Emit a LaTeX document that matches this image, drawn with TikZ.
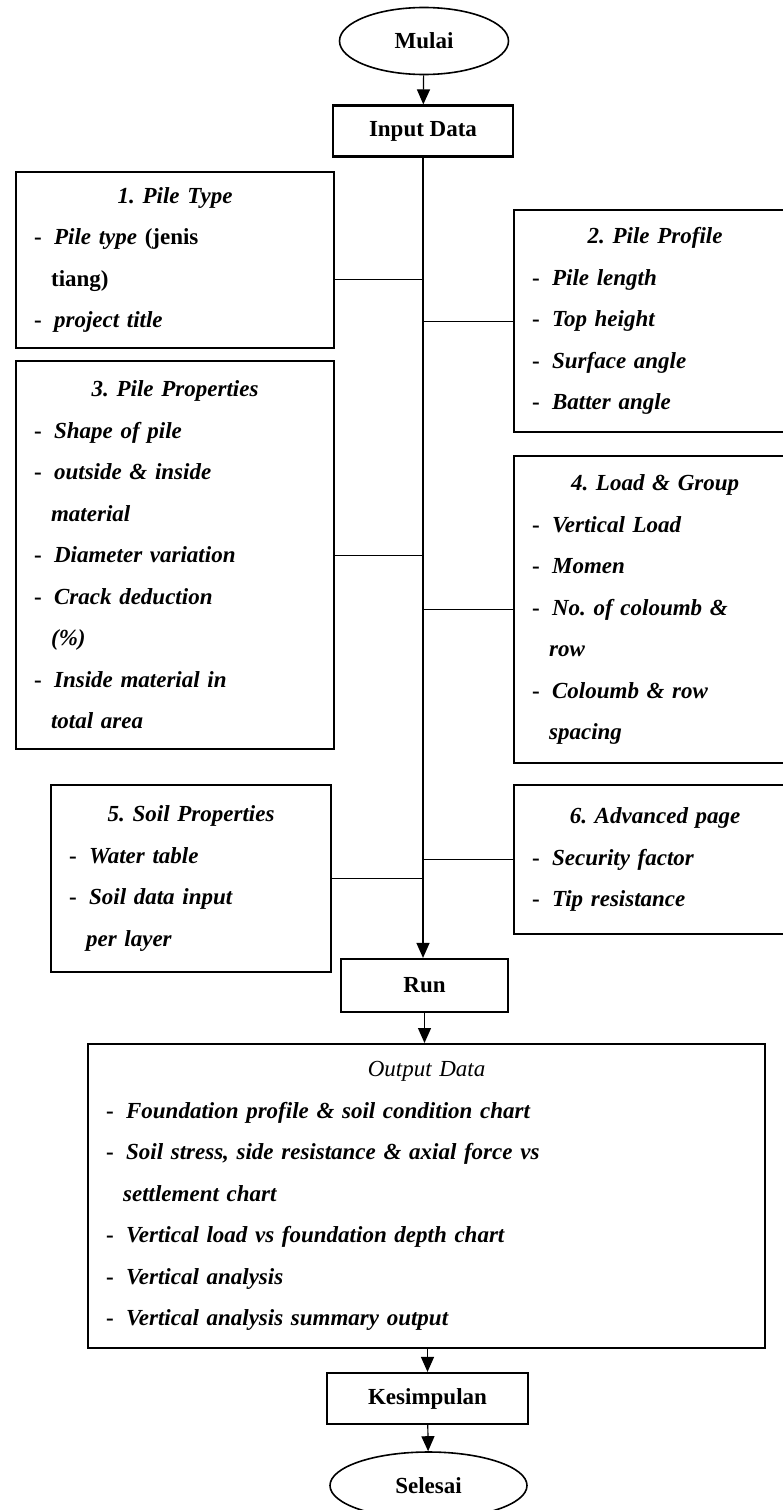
\documentclass[tikz,border=0pt]{standalone}
\usepackage{fontspec}
\setmainfont{Liberation Serif}
\usetikzlibrary{arrows.meta,shapes.geometric}
\frenchspacing
\newcommand{\fs}{\fontsize{23}{41.5}\selectfont}
\newcommand{\ttl}[1]{\makebox[\linewidth]{#1}}
\newcommand{\itm}[1]{\makebox[20pt][l]{\upshape -}#1}
\newcommand{\cnt}[1]{\hspace*{17pt}#1}
\tikzset{
  term/.style={ellipse,draw,line width=1.6pt,minimum width=169pt,minimum height=67pt,
    inner sep=0pt,font=\fs\bfseries},
  proc/.style={draw,line width=2.2pt,minimum height=51pt,inner sep=0pt,font=\fs\bfseries},
  panel/.style={draw,line width=2.2pt,anchor=north west,align=left,inner xsep=18pt,
    inner ysep=0pt,font=\fs\bfseries\itshape},
  arr/.style={-{Triangle[length=15pt,width=13pt]},line width=1.2pt},
  link/.style={line width=1.2pt}
}

\begin{document}
\begin{tikzpicture}[x=1pt,y=-1pt]
  \useasboundingbox (0,0) rectangle (783,1510);

  \node[term] (mulai) at (424,41) {Mulai};
  \node[proc,minimum width=180pt] (input) at (423,131) {Input Data};
  \draw[arr] (mulai) -- (input);

  \node[panel,minimum width=318pt,minimum height=176pt,text width=282pt] (pile_type) at (15,171)
    {\ttl{1. Pile Type}\\
     \itm{Pile type \textup{(jenis}}\\
     \cnt{\textup{tiang)}}\\
     \itm{project title}};
  \node[panel,minimum width=282pt,minimum height=222pt,text width=246pt] (pile_profile) at (513,209)
    {\ttl{2. Pile Profile}\\
     \itm{Pile length}\\
     \itm{Top height}\\
     \itm{Surface angle}\\
     \itm{Batter angle}};
  \node[panel,minimum width=318pt,minimum height=388pt,text width=282pt] (pile_prop) at (15,360)
    {\ttl{3. Pile Properties}\\
     \itm{Shape of pile}\\
     \itm{outside \& inside}\\
     \cnt{material}\\
     \itm{Diameter variation}\\
     \itm{Crack deduction}\\
     \cnt{(\%)}\\
     \itm{Inside material in}\\
     \cnt{total area}};
  \node[panel,minimum width=282pt,minimum height=307pt,text width=246pt] (load_group) at (513,455)
    {\ttl{4. Load \& Group}\\
     \itm{Vertical Load}\\
     \itm{Momen}\\
     \itm{No. of coloumb \&}\\
     \cnt{row}\\
     \itm{Coloumb \& row}\\
     \cnt{spacing}};
  \node[panel,minimum width=280pt,minimum height=187pt,text width=244pt] (soil_prop) at (50,784)
    {\ttl{5. Soil Properties}\\
     \itm{Water table}\\
     \itm{Soil data input}\\
     \cnt{per layer}};
  \node[panel,minimum width=282pt,minimum height=149pt,text width=246pt] (advanced) at (513,784)
    {\ttl{6. Advanced page}\\
     \itm{Security factor}\\
     \itm{Tip resistance}};

  \node[proc,minimum width=167pt,minimum height=53pt] (run) at (424.5,985.5) {Run};
  \draw[arr] (input.south) -- (input.south |- run.north);

  % panels hang on the main line
  \draw[link] ([yshift=-19pt]pile_type.east) -- ([yshift=-19pt]pile_type.east -| input.south);
  \draw[link] (pile_profile.west) -- (pile_profile.west -| input.south);
  \draw[link] (pile_prop.east) -- (pile_prop.east -| input.south);
  \draw[link] (load_group.west) -- (load_group.west -| input.south);
  \draw[link] (soil_prop.east) -- (soil_prop.east -| input.south);
  \draw[link] (advanced.west) -- (advanced.west -| input.south);

  \node[panel,minimum width=677pt,minimum height=304pt,text width=641pt] (output) at (87,1043)
    {\ttl{\mdseries Output Data}\\
     \itm{Foundation profile \& soil condition chart}\\
     \itm{Soil stress, side resistance \& axial force vs}\\
     \cnt{settlement chart}\\
     \itm{Vertical load vs foundation depth chart}\\
     \itm{Vertical analysis}\\
     \itm{Vertical analysis summary output}};
  \draw[arr] (run) -- (run |- output.north);

  \node[proc,minimum width=201pt] (kesimpulan) at (427.5,1398.5) {Kesimpulan};
  \draw[arr] (kesimpulan.north |- output.south) -- (kesimpulan.north);
  \node[term,minimum width=197pt] (selesai) at (428.5,1485.5) {Selesai};
  \draw[arr] (kesimpulan) -- (selesai);
\end{tikzpicture}
\end{document}
